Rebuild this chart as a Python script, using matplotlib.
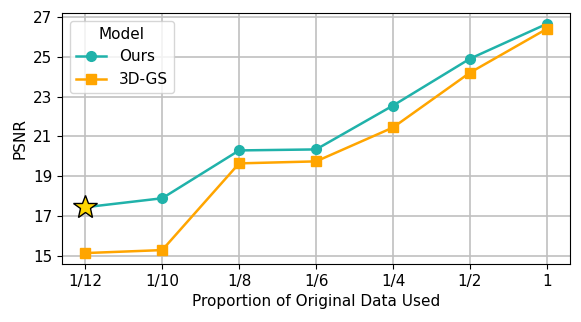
import matplotlib
matplotlib.use("Agg")
import matplotlib.pyplot as plt

labels = ["1/12", "1/10", "1/8", "1/6", "1/4", "1/2", "1"]
ours = [17.45, 17.9, 20.3, 20.35, 22.55, 24.9, 26.65]
gs3d = [15.15, 15.3, 19.65, 19.75, 21.45, 24.2, 26.4]
yticks = [15, 17, 19, 21, 23, 25, 27]

fig, ax = plt.subplots(figsize=(5.81, 3.22), dpi=100)
x = list(range(len(labels)))
ax.plot(x[1:], ours[1:], marker="o", color="#20b2aa", markersize=7, linewidth=1.8, label="Ours", linestyle="none")
ax.plot(x, ours, color="#20b2aa", linewidth=1.8)
ax.plot(x, gs3d, marker="s", color="#ffa500", markersize=7, linewidth=1.8, label="3D-GS")
ax.plot([x[0]], [ours[0]], marker="*", color="gold", markeredgecolor="black", markersize=18, linestyle="none", zorder=5)

# legend handles
from matplotlib.lines import Line2D
handles = [Line2D([], [], color="#20b2aa", marker="o", markersize=7, linewidth=1.8),
           Line2D([], [], color="#ffa500", marker="s", markersize=7, linewidth=1.8)]
ax.legend(handles, ["Ours", "3D-GS"], title="Model", loc="upper left", fontsize=11, title_fontsize=11)

ax.set_xticks(x)
ax.set_xticklabels(labels)
ax.set_yticks(yticks)
ax.set_xlim(-0.3, 6.3)
ax.set_ylim(14.6, 27.2)
ax.grid(True, color="#c0c0c0", linewidth=1.2)
ax.set_axisbelow(True)
ax.set_xlabel("Proportion of Original Data Used", fontsize=11)
ax.set_ylabel("PSNR", fontsize=11)
ax.tick_params(labelsize=11)
fig.subplots_adjust(left=0.107, right=0.981, top=0.96, bottom=0.18)
fig.savefig("out.png", dpi=100)
